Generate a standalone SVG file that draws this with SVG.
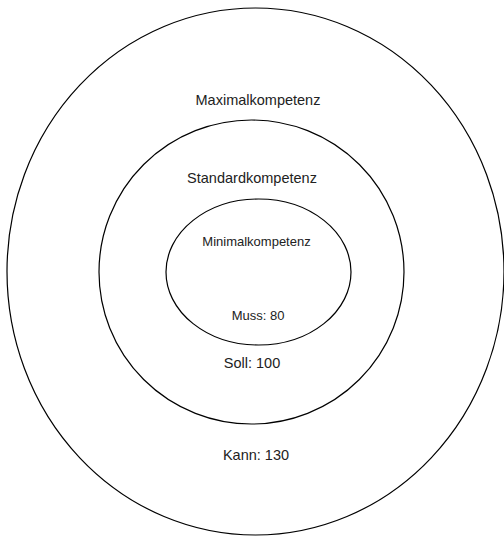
<svg xmlns="http://www.w3.org/2000/svg" width="504" height="536" viewBox="0 0 504 536">
<style>
.e{fill:none;stroke:#000;stroke-width:1.2}
.t{font-family:"Liberation Sans",Arial,sans-serif;fill:#222;text-anchor:middle}
.l{font-size:14.5px}
.s{font-size:13px}
</style>
<rect width="504" height="536" fill="#fff"/>
<g id="maximal">
<ellipse class="e" cx="255.5" cy="271.5" rx="248.5" ry="263.5"/>
<text class="t l" x="258" y="105">Maximalkompetenz</text>
<text class="t l" x="256" y="460">Kann: 130</text>
</g>
<g id="standard">
<ellipse class="e" cx="251.5" cy="272" rx="152.5" ry="152"/>
<text class="t l" x="252" y="183">Standardkompetenz</text>
<text class="t l" x="252" y="368">Soll: 100</text>
</g>
<g id="minimal">
<ellipse class="e" cx="258.5" cy="272" rx="92.5" ry="73"/>
<text class="t s" x="256.5" y="246">Minimalkompetenz</text>
<text class="t s" x="258" y="320">Muss: 80</text>
</g>
<g id="connectors"/>
</svg>
